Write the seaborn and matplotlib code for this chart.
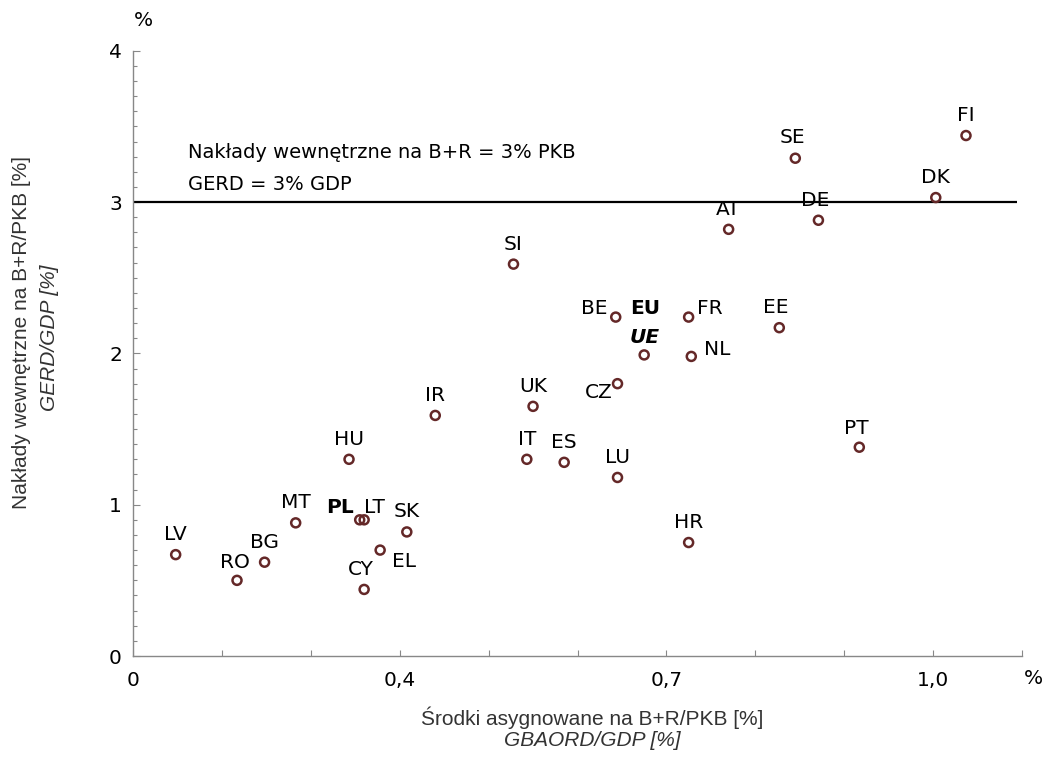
import numpy as np
import pandas as pd
import matplotlib
matplotlib.use('Agg')
import matplotlib.pyplot as plt
import seaborn as sns
from matplotlib.ticker import FixedLocator, FixedFormatter, NullFormatter

# dane
kraje = ['LV', 'RO', 'BG', 'MT', 'HU', 'PL', 'LT', 'CY', 'EL', 'SK', 'IR', 'SI', 'UK', 'IT',
         'ES', 'BE', 'CZ', 'LU', 'EU', 'FR', 'NL', 'HR', 'AT', 'EE', 'SE', 'DE', 'PT', 'DK', 'FI']
gbaord = [0.148, 0.217, 0.248, 0.283, 0.343, 0.355, 0.360, 0.360, 0.378, 0.408, 0.440, 0.528,
          0.550, 0.543, 0.585, 0.643, 0.645, 0.645, 0.675, 0.725, 0.728, 0.725, 0.770, 0.827,
          0.845, 0.871, 0.917, 1.003, 1.037]
gerd = [0.67, 0.50, 0.62, 0.88, 1.30, 0.90, 0.90, 0.44, 0.70, 0.82, 1.59, 2.59, 1.65, 1.30,
        1.28, 2.24, 1.80, 1.18, 1.99, 2.24, 1.98, 0.75, 2.82, 2.17, 3.29, 2.88, 1.38, 3.03, 3.44]

x_ticks = [0.1, 0.4, 0.7, 1.0]
x_tick_labels = ['0', '0,4', '0,7', '1,0']
y_ticks = [0, 1, 2, 3, 4]
prog_gerd = 3.0

df = pd.DataFrame({'kraj': kraje, 'gbaord': gbaord, 'gerd': gerd})

# przesuniecia etykiet (px, srodek etykiety wzgledem punktu)
offs = {'PL': (-20, 14), 'LT': (10, 14), 'EL': (24, -9), 'BE': (-21, 11), 'FR': (21, 11),
        'NL': (26, 9), 'CZ': (-19, -7), 'RO': (-2, 20), 'SE': (-3, 23), 'DE': (-3, 22),
        'EE': (-4, 22), 'PT': (-3, 21), 'CY': (-3, 22)}

sns.set_theme(style='white')
plt.rcParams['font.family'] = ['DejaVu Sans']
plt.rcParams['text.color'] = 'black'
narrow = ['Liberation Sans Narrow', 'Liberation Sans', 'DejaVu Sans']

W, H = 1050, 758
fig = plt.figure(figsize=(W / 100, H / 100), dpi=100)
ax = fig.add_axes([133 / W, 1 - 656 / H, (1022 - 133) / W, (656 - 50.8) / H])

kolor = '#642828'
sns.scatterplot(data=df, x='gbaord', y='gerd', ax=ax, s=42, facecolor='none',
                edgecolor=kolor, linewidth=1.8, zorder=3)

# linia 3% PKB
ax.hlines(prog_gerd, 0.1, 1.094, color='black', linewidth=1.6, zorder=2)
fig.text(188 / W, 1 - 153 / H, 'Nakłady wewnętrzne na B+R = 3% PKB', fontsize=14,
         va='center', ha='left')
fig.text(188 / W, 1 - 184 / H, 'GERD = 3% GDP', fontsize=14, va='center', ha='left')

px = 0.72
for k, xv, yv in zip(df['kraj'], df['gbaord'], df['gerd']):
    if k == 'EU':
        ax.annotate('EU', (xv, yv), xytext=(1 * px, (48 - 7.5) * px), textcoords='offset points',
                    ha='center', va='baseline', fontsize=14.5, fontweight='bold')
        ax.annotate('UE', (xv, yv), xytext=(1 * px, (19 - 7.5) * px), textcoords='offset points',
                    ha='center', va='baseline', fontsize=14.5, fontweight='bold', style='italic')
        continue
    dx, dy = offs.get(k, (0, 22))
    ax.annotate(k, (xv, yv), xytext=(dx * px, (dy - 7.5) * px), textcoords='offset points',
                ha='center', va='baseline', fontsize=14.5,
                fontweight='bold' if k == 'PL' else 'normal')

ax.set_xlim(0.1, 1.1)
ax.set_ylim(0, 4)
ax.xaxis.set_major_locator(FixedLocator(x_ticks))
ax.xaxis.set_major_formatter(FixedFormatter(x_tick_labels))
ax.xaxis.set_minor_locator(FixedLocator([0.2, 0.3, 0.5, 0.6, 0.8, 0.9, 1.1]))
ax.yaxis.set_major_locator(FixedLocator(y_ticks))
ax.yaxis.set_minor_locator(FixedLocator([i / 10 for i in range(41) if i % 10]))
ax.xaxis.set_minor_formatter(NullFormatter())
ax.yaxis.set_minor_formatter(NullFormatter())
ax.tick_params(axis='both', which='both', direction='in', color='#888888', width=0.8,
               labelsize=14.5, labelcolor='black', bottom=True, left=True)
ax.tick_params(axis='x', which='both', length=4, pad=11)
ax.tick_params(axis='y', which='major', length=5, pad=8)
ax.tick_params(axis='y', which='minor', length=3)
ax.set_xlabel('')
ax.set_ylabel('')
for s in ['top', 'right']:
    ax.spines[s].set_visible(False)
for s in ['left', 'bottom']:
    ax.spines[s].set_color('#888888')
    ax.spines[s].set_linewidth(1.0)

fig.text(143 / W, 1 - 20 / H, '%', fontsize=14.5, ha='center', va='center')
fig.text(1033 / W, 1 - 679 / H, '%', fontsize=14.5, ha='center', va='center')

fig.text(592 / W, 1 - 718 / H, 'Środki asygnowane na B+R/PKB [%]', family=narrow,
         fontsize=15, ha='center', va='center', color='#333333')
fig.text(592 / W, 1 - 741 / H, 'GBAORD/GDP [%]', family=narrow, style='italic',
         fontsize=15, ha='center', va='center', color='#333333')
fig.text(22 / W, 1 - 333 / H, 'Nakłady wewnętrzne na B+R/PKB [%]', family=narrow,
         fontsize=15, ha='center', va='center', rotation=90, color='#333333')
fig.text(50 / W, 1 - 338 / H, 'GERD/GDP [%]', family=narrow, style='italic',
         fontsize=15, ha='center', va='center', rotation=90, color='#333333')

fig.savefig('out.png', dpi=100)
